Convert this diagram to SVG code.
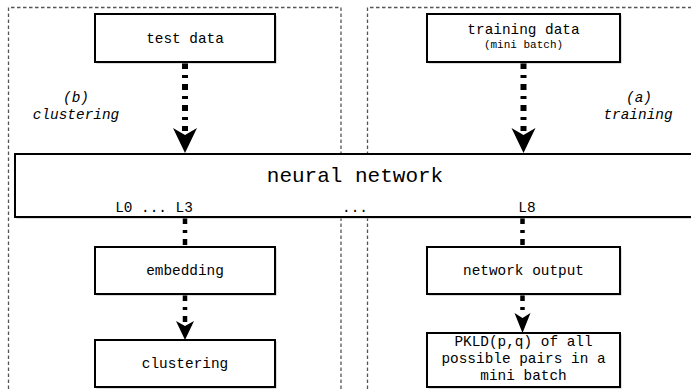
<svg xmlns="http://www.w3.org/2000/svg" width="691" height="389" viewBox="0 0 691 389">
<defs>
<style>
.panel{fill:none;stroke:#555;stroke-width:1.3;stroke-dasharray:3.5 2.5}
.shadow{fill:#bbb;stroke:none}
.box{fill:#fff;stroke:#000;stroke-width:2}
.t{font-family:"Liberation Mono","DejaVu Sans Mono",monospace;font-size:14.4px;fill:#000;text-anchor:middle}
.small{font-size:11px}
.big{font-size:21px}
.it{font-style:italic}
.conn{fill:none;stroke:#000;stroke-dasharray:6 6 3 6}
.w6{stroke-width:6}
.w4{stroke-width:4.5}
</style>
</defs>
<rect width="691" height="389" fill="#fff"/>
<g id="panels">
<path class="panel" d="M8.5,395 V7.5 H341 V395"/>
<path class="panel" d="M367.5,395 V7.5 H700"/>
</g>
<g id="label-b">
<text class="t it" x="76" y="102">(b)</text>
<text class="t it" x="76" y="119">clustering</text>
</g>
<g id="label-a">
<text class="t it" x="639" y="102">(a)</text>
<text class="t it" x="638" y="119">training</text>
</g>
<g id="connectors">
<line class="conn w6" x1="185" y1="63" x2="185" y2="131"/>
<path d="M173,128 L185,135 L197,128 L185,153 Z" fill="#000"/>
<line class="conn w6" x1="523.5" y1="63" x2="523.5" y2="131"/>
<path d="M511.5,128 L523.5,135 L535.5,128 L523.5,153 Z" fill="#000"/>
<line class="conn w4" x1="185" y1="218" x2="185" y2="247"/>
<line class="conn w4" x1="522.5" y1="218" x2="522.5" y2="247"/>
<line class="conn w4" x1="185" y1="295" x2="185" y2="324"/>
<path d="M176,321 L185,326 L194,321 L185,340 Z" fill="#000"/>
<line class="conn w4" x1="522.5" y1="295" x2="522.5" y2="316"/>
<path d="M514.5,313 L522.5,318 L530.5,313 L522.5,333 Z" fill="#000"/>
</g>
<g id="test-data">
<rect class="shadow" x="96.5" y="15.5" width="180" height="48"/>
<rect class="box" x="95" y="14" width="180" height="48"/>
<text class="t" x="185" y="43">test data</text>
</g>
<g id="training-data">
<rect class="shadow" x="428.5" y="15.5" width="193" height="48"/>
<rect class="box" x="427" y="14" width="193" height="48"/>
<text class="t" x="523.5" y="34">training data</text>
<text class="t small" x="523.5" y="48">(mini batch)</text>
</g>
<g id="neural-network">
<rect class="shadow" x="16.5" y="155.5" width="690" height="63"/>
<rect class="box" x="15" y="154" width="690" height="63"/>
<text class="t big" x="355" y="182">neural network</text>
<text class="t" x="154" y="212">L0 ... L3</text>
<text class="t" x="355" y="212">...</text>
<text class="t" x="527" y="212">L8</text>
</g>
<g id="embedding">
<rect class="shadow" x="96.5" y="248.5" width="180" height="47"/>
<rect class="box" x="95" y="247" width="180" height="47"/>
<text class="t" x="185" y="275">embedding</text>
</g>
<g id="clustering">
<rect class="shadow" x="96.5" y="341.5" width="180" height="47"/>
<rect class="box" x="95" y="340" width="180" height="47"/>
<text class="t" x="185" y="368">clustering</text>
</g>
<g id="network-output">
<rect class="shadow" x="428.5" y="248.5" width="193" height="47"/>
<rect class="box" x="427" y="247" width="193" height="47"/>
<text class="t" x="523.5" y="275">network output</text>
</g>
<g id="pkld">
<rect class="shadow" x="428.5" y="334.5" width="193" height="54"/>
<rect class="box" x="427" y="333" width="193" height="54"/>
<text class="t" x="523.5" y="346">PKLD(p,q) of all</text>
<text class="t" x="523.5" y="363">possible pairs in a</text>
<text class="t" x="523.5" y="380">mini batch</text>
</g>
</svg>
